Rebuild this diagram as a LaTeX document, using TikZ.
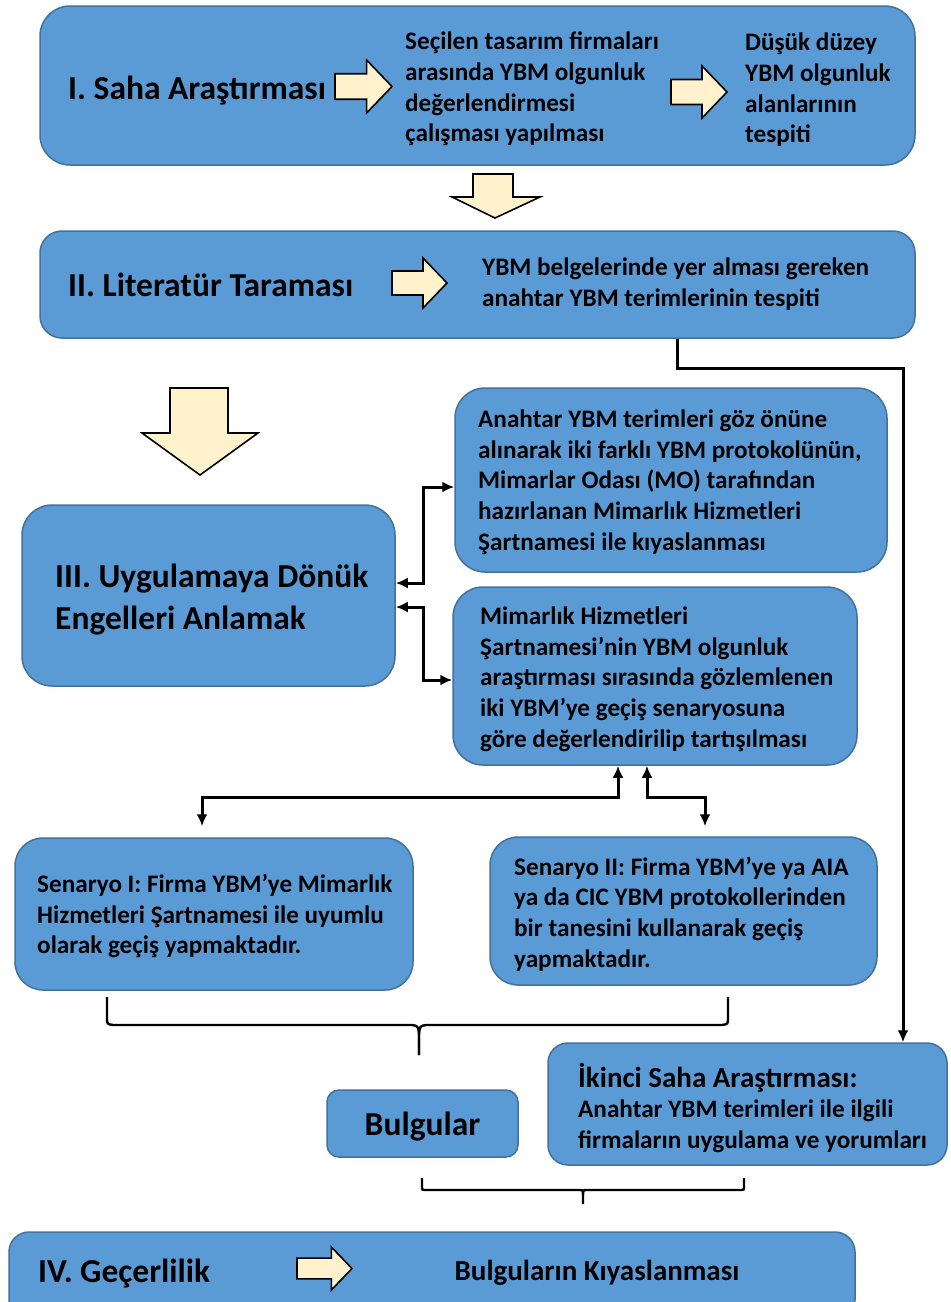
\documentclass[tikz,border=0pt]{standalone}
\usepackage{fontspec}
\setmainfont{Carlito}
\usetikzlibrary{arrows.meta}
\definecolor{boxfill}{HTML}{5B9BD5}
\definecolor{boxline}{HTML}{41719C}
\definecolor{cream}{HTML}{FFF2CC}
\tikzset{
  box/.style={draw=boxline, fill=boxfill, line width=1.5pt, rounded corners=#1, inner sep=0pt},
  blockarrow/.style={draw=black, fill=cream, line width=1.6pt, line join=miter},
  txt/.style={font=\bfseries\fontsize{25.2}{30.7}\selectfont, align=left, inner sep=0pt, anchor=west, yshift=-2pt},
  title/.style={font=\bfseries\fontsize{33.5}{42}\selectfont, align=left, inner sep=0pt, anchor=west, yshift=-3pt},
  conn/.style={draw=black, line width=3pt},
  tip/.style={-{Latex[length=12pt,width=11pt]}},
  dtip/.style={{Latex[length=12pt,width=11pt]}-{Latex[length=12pt,width=11pt]}},
  bracel/.style={draw=black, line width=2.4pt}
}
\newcommand\rblock[4]{%
  \draw[blockarrow] ({#1},{#2+0.26*#4}) -- ({#1+#3-0.48*#4},{#2+0.26*#4}) -- ({#1+#3-0.48*#4},{#2}) -- ({#1+#3},{#2+0.5*#4}) -- ({#1+#3-0.48*#4},{#2+#4}) -- ({#1+#3-0.48*#4},{#2+0.74*#4}) -- ({#1},{#2+0.74*#4}) -- cycle;}
\begin{document}
\begin{tikzpicture}[x=1pt,y=-1pt]
\clip (0,0) rectangle (951,1302);
\fill[white] (0,0) rectangle (951,1302);
% boxes
\node[box=30, minimum width=875pt, minimum height=159pt] (b1) at (477.5,85.5) {};
\node[box=22, minimum width=875pt, minimum height=107pt] (b2) at (477.5,284.5) {};
\node[box=30, minimum width=373pt, minimum height=181pt] (b3) at (208.5,595.5) {};
\node[box=30, minimum width=432pt, minimum height=184pt] (bA) at (671,480) {};
\node[box=30, minimum width=404pt, minimum height=178pt] (bB) at (655,676) {};
\node[box=28, minimum width=398pt, minimum height=152pt] (bS1) at (214,914) {};
\node[box=28, minimum width=387pt, minimum height=148pt] (bS2) at (683.5,911) {};
\node[box=12, minimum width=191pt, minimum height=67pt] (bBul) at (422.5,1123.5) {};
\node[box=20, minimum width=399pt, minimum height=122pt] (bIk) at (747.5,1104) {};
\node[box=20, minimum width=846pt, minimum height=88pt] (b4) at (432,1276) {};
% block arrows
\rblock{335}{60}{57}{53}
\rblock{671}{66}{56}{52}
\rblock{392}{258}{55}{50}
\rblock{297}{1247}{55}{43}
\draw[blockarrow] (473,174) -- (513,174) -- (513,197) -- (540,197) -- (495,218) -- (452,197) -- (473,197) -- cycle;
\draw[blockarrow] (170,388) -- (228,388) -- (228,433) -- (258,433) -- (200,475) -- (142,433) -- (170,433) -- cycle;
% texts
\node[title] (t1) at (68,88) {I. Saha Araştırması};
\node[txt] (t2) at (405,87) {Seçilen tasarım firmaları\\arasında YBM olgunluk\\değerlendirmesi\\çalışması yapılması};
\node[txt] (t3) at (745,88) {Düşük düzey\\YBM olgunluk\\alanlarının\\tespiti};
\node[title] (t4) at (68,282) {II. Literatür Taraması};
\node[txt] (t5) at (482,282) {YBM belgelerinde yer alması gereken\\anahtar YBM terimlerinin tespiti};
\node[title] (t6) at (55,597) {III. Uygulamaya Dönük\\Engelleri Anlamak};
\node[txt] (tA) at (478,480) {Anahtar YBM terimleri göz önüne\\alınarak iki farklı YBM protokolünün,\\Mimarlar Odası (MO) tarafından\\hazırlanan Mimarlık Hizmetleri\\Şartnamesi ile kıyaslanması};
\node[txt] (tB) at (480,677) {Mimarlık Hizmetleri\\Şartnamesi’nin YBM olgunluk\\araştırması sırasında gözlemlenen\\iki YBM’ye geçiş senaryosuna\\göre değerlendirilip tartışılması};
\node[txt] (tS1) at (37,914) {Senaryo I: Firma YBM’ye Mimarlık\\Hizmetleri Şartnamesi ile uyumlu\\olarak geçiş yapmaktadır.};
\node[txt] (tS2) at (514,912) {Senaryo II: Firma YBM’ye ya AIA\\ya da CIC YBM protokollerinden\\bir tanesini kullanarak geçiş\\yapmaktadır.};
\node[title, anchor=center] (tBul) at (bBul) {Bulgular};
\node[txt, font=\bfseries\fontsize{29}{32}\selectfont] (tIk1) at (578,1076) {İkinci Saha Araştırması:};
\node[txt] (tIk2) at (578,1124) {Anahtar YBM terimleri ile ilgili\\firmaların uygulama ve yorumları};
\node[title] (t7) at (38,1271) {IV. Geçerlilik};
\node[txt, anchor=center, font=\bfseries\fontsize{29}{32}\selectfont] (t8) at (597,1271) {Bulguların Kıyaslanması};
% connectors
\draw[conn, dtip] ([yshift=12.5pt]b3.east) -| ([xshift=-31pt,yshift=-7pt]bA.west) -- ([yshift=-7pt]bA.west);
\draw[conn, dtip] ([yshift=-11.5pt]b3.east) -| ([xshift=-29pt,yshift=-4pt]bB.west) -- ([yshift=-4pt]bB.west);
\coordinate (j1) at (202,797);
\coordinate (j2) at (705,797);
\coordinate (j3) at (903,368);
\draw[conn, dtip, shorten >=11pt] ([xshift=-37pt]bB.south) |- (j1) -- ([xshift=-12pt]bS1.north);
\draw[conn, dtip, shorten >=10pt] ([xshift=-8pt]bB.south) |- (j2) -- ([xshift=21.5pt]bS2.north);
\draw[conn, tip] ([xshift=199.5pt]b2.south) |- (j3) -- ([xshift=155.5pt]bIk.north);
% braces
\draw[bracel] (107,997) -- (107,1018) .. controls (107,1024) .. (113,1025) -- (412,1025) .. controls (418,1026) .. (419,1034) -- (419,1055);
\draw[bracel] (728,997) -- (728,1018) .. controls (728,1024) .. (722,1025) -- (426,1025) .. controls (420,1026) .. (419,1034) -- (419,1055);
\draw[bracel] (422,1178) -- (422,1186) .. controls (422,1190) .. (426,1190) -- (579,1190) .. controls (583,1190) .. (583,1195) -- (583,1204);
\draw[bracel] (744,1178) -- (744,1186) .. controls (744,1190) .. (740,1190) -- (587,1190) .. controls (583,1190) .. (583,1195);
\end{tikzpicture}
\end{document}
